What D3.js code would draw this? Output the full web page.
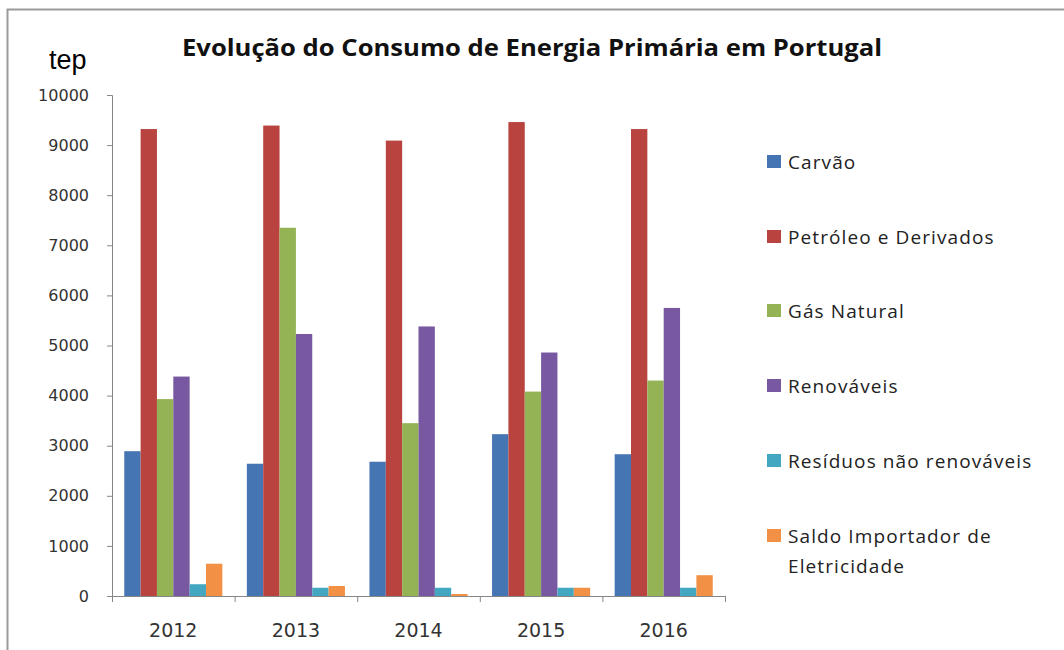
<!DOCTYPE html>
<html>
<head>
<meta charset="utf-8">
<script src="https://cdn.jsdelivr.net/npm/d3@7"></script>
<style>
  body { margin: 0; background: #fff; }
  svg { display: block; }
</style>
</head>
<body>
<script>
const width = 1064, height = 650;

// data
const years = ["2012", "2013", "2014", "2015", "2016"];
const seriesNames = ["Carvão", "Petróleo e Derivados", "Gás Natural", "Renováveis",
                     "Resíduos não renováveis", "Saldo Importador de Eletricidade"];
const carvao     = [2890, 2640, 2680, 3230, 2830];
const petroleo   = [9320, 9390, 9090, 9460, 9320];
const gasNatural = [3930, 7350, 3450, 4080, 4300];
const renovaveis = [4380, 5230, 5380, 4860, 5750];
const residuos   = [235, 165, 165, 165, 165];
const saldo      = [645, 200, 40, 165, 415];
const yTicks = [0, 1000, 2000, 3000, 4000, 5000, 6000, 7000, 8000, 9000, 10000];

const colors = ["#4575B2", "#B9443F", "#93B354", "#7858A0", "#43A7C2", "#F29145"];
const values = [carvao, petroleo, gasNatural, renovaveis, residuos, saldo];

const svg = d3.select("body").append("svg")
    .attr("width", width)
    .attr("height", height);

// outer frame (only top and left visible)
svg.append("path")
    .attr("d", "M7.5,650 V9.5 H1064")
    .attr("fill", "none")
    .attr("stroke", "#9a9a9a")
    .attr("stroke-width", 2);

const x0 = d3.scaleBand()
    .domain(years)
    .range([112, 725])
    .paddingInner(0.2)
    .paddingOuter(0.1);

const x1 = d3.scaleBand()
    .domain(d3.range(seriesNames.length))
    .range([0, x0.bandwidth()]);

const y = d3.scaleLinear()
    .domain([0, 10000])
    .range([596, 95]);

// bars
years.forEach((yr, i) => {
    svg.append("g")
        .attr("transform", "translate(" + x0(yr) + ",0)")
        .selectAll("rect")
        .data(values.map((v, k) => ({k: k, v: v[i]})))
        .enter()
        .append("rect")
        .attr("x", d => x1(d.k))
        .attr("width", x1.bandwidth())
        .attr("y", d => y(d.v))
        .attr("height", d => y(0) - y(d.v))
        .attr("fill", d => colors[d.k]);
});

// y axis
const yAxis = svg.append("g")
    .attr("transform", "translate(112,0)")
    .call(d3.axisLeft(y).tickValues(yTicks).tickSize(5).tickPadding(18).tickFormat(d3.format("d")));
yAxis.select(".domain").attr("stroke", "#868686");
yAxis.selectAll(".tick line").attr("stroke", "#868686");
yAxis.selectAll("text")
    .attr("font-family", "DejaVu Sans, Verdana, sans-serif")
    .attr("font-size", 16)
    .attr("fill", "#333");

// x axis: ticks at category boundaries
const xb = d3.scaleLinear().domain([0, years.length]).range([112, 725]);
const xAxis = svg.append("g")
    .attr("transform", "translate(0," + y(0) + ")")
    .call(d3.axisBottom(xb).tickValues(d3.range(years.length + 1)).tickSize(6).tickFormat(""));
xAxis.select(".domain").attr("stroke", "#868686");
xAxis.selectAll(".tick line").attr("stroke", "#868686");

svg.append("g")
    .selectAll("text")
    .data(years)
    .enter()
    .append("text")
    .attr("x", d => x0(d) + x0.bandwidth() / 2)
    .attr("y", 637)
    .attr("text-anchor", "middle")
    .attr("font-family", "DejaVu Sans, Verdana, sans-serif")
    .attr("font-size", 19)
    .attr("fill", "#333")
    .text(d => d);

// title and unit
svg.append("text")
    .attr("x", 532)
    .attr("y", 56)
    .attr("text-anchor", "middle")
    .attr("font-family", "Open Sans, sans-serif")
    .attr("font-weight", "bold")
    .attr("font-size", 24)
    .attr("textLength", 700)
    .attr("lengthAdjust", "spacingAndGlyphs")
    .attr("fill", "#111")
    .text("Evolução do Consumo de Energia Primária em Portugal");

svg.append("text")
    .attr("x", 49)
    .attr("y", 69)
    .attr("font-family", "Liberation Sans, Arial, sans-serif")
    .attr("font-size", 27)
    .attr("fill", "#000")
    .text("tep");

// legend
const legendY = [162, 237, 311, 386, 461, 536];
const legend = svg.append("g");
seriesNames.forEach((name, k) => {
    legend.append("rect")
        .attr("x", 767)
        .attr("y", legendY[k] - 7)
        .attr("width", 14)
        .attr("height", 13)
        .attr("fill", colors[k]);
    const t = legend.append("text")
        .attr("x", 788)
        .attr("y", legendY[k] + 7)
        .attr("font-family", "Open Sans, sans-serif")
        .attr("font-size", 19)
        .attr("letter-spacing", 1.1)
        .attr("fill", "#222");
    if (k === 5) {
        t.append("tspan").attr("x", 788).text("Saldo Importador de");
        t.append("tspan").attr("x", 788).attr("dy", 30).text("Eletricidade");
    } else {
        t.text(name);
    }
});
</script>
</body>
</html>
